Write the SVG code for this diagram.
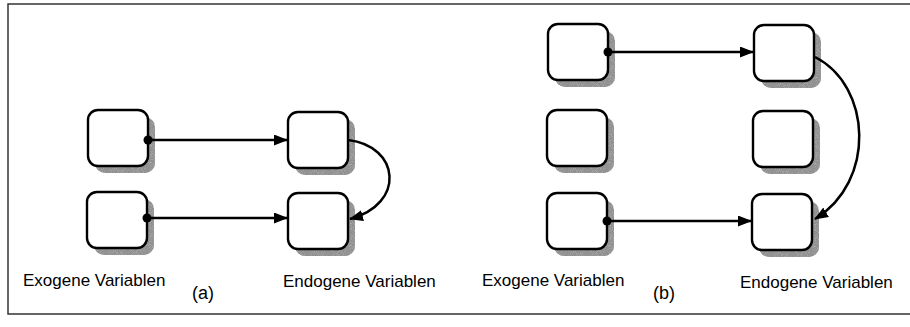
<svg xmlns="http://www.w3.org/2000/svg" width="910" height="327" viewBox="0 0 910 327">
  <style>
    .box { fill: #ffffff; stroke: #000000; stroke-width: 2.4; }
    .shadow { fill: #000000; filter: url(#grain); }
    .edge { fill: none; stroke: #000000; stroke-width: 2.5; }
    .dot { fill: #000000; }
    .lbl { font-family: "Liberation Sans", Arial, sans-serif; font-size: 17px; fill: #000000; }
    .tag { font-family: "Liberation Sans", Arial, sans-serif; font-size: 18px; fill: #000000; }
    .frame { fill: none; stroke: #333333; stroke-width: 1.5; }
  </style>
  <defs>
    <!-- speckled grey used for the drop shadows -->
    <filter id="grain" x="0" y="0" width="100%" height="100%">
      <feTurbulence type="fractalNoise" baseFrequency="0.95" numOctaves="2" seed="7" result="noise"/>
      <feColorMatrix in="noise" type="matrix" values="0 0 0 0 0.28  0 0 0 0 0.28  0 0 0 0 0.28  3 0 0 0 -0.55" result="speck"/>
      <feComposite in="speck" in2="SourceGraphic" operator="in" result="dots"/>
      <feFlood flood-color="#b4b4b4" result="base"/>
      <feComposite in="base" in2="SourceGraphic" operator="in" result="baseShape"/>
      <feMerge>
        <feMergeNode in="baseShape"/>
        <feMergeNode in="dots"/>
      </feMerge>
    </filter>
    <marker id="arrow" viewBox="0 0 14 11" refX="13" refY="5.5" markerWidth="14" markerHeight="11" markerUnits="userSpaceOnUse" orient="auto">
      <path d="M0,0 L14,5.5 L0,11 z" fill="#000000"/>
    </marker>
    <symbol id="node" overflow="visible">
      <rect class="shadow" x="7" y="7" width="60" height="56" rx="10"/>
      <rect class="box" x="0" y="0" width="60" height="56" rx="10"/>
    </symbol>
  </defs>

  <!-- outer frame -->
  <path class="frame" d="M910,4 L8,4 L8,314 L910,314"/>

  <!-- panel (a) -->
  <g id="a-exo-1"><use href="#node" x="88" y="110"/></g>
  <g id="a-exo-2"><use href="#node" x="87" y="192"/></g>
  <g id="a-endo-1"><use href="#node" x="288" y="112"/></g>
  <g id="a-endo-2"><use href="#node" x="288" y="193"/></g>

  <!-- panel (b) -->
  <g id="b-exo-1"><use href="#node" x="548" y="24"/></g>
  <g id="b-exo-2"><use href="#node" x="547" y="110"/></g>
  <g id="b-exo-3"><use href="#node" x="547" y="193"/></g>
  <g id="b-endo-1"><use href="#node" x="754" y="25"/></g>
  <g id="b-endo-2"><use href="#node" x="753" y="111"/></g>
  <g id="b-endo-3"><use href="#node" x="752" y="194"/></g>

  <g id="connectors">
    <!-- (a) -->
    <circle class="dot" cx="148" cy="140" r="4.5"/>
    <path class="edge" d="M148,140 L287,140" marker-end="url(#arrow)"/>
    <circle class="dot" cx="147" cy="218" r="4.5"/>
    <path class="edge" d="M147,218 L287,218" marker-end="url(#arrow)"/>
    <path class="edge" d="M348,140 C400,146 406,204 350,219" marker-end="url(#arrow)"/>
    <!-- (b) -->
    <circle class="dot" cx="608" cy="52" r="4.5"/>
    <path class="edge" d="M608,52 L753,52" marker-end="url(#arrow)"/>
    <circle class="dot" cx="607" cy="221" r="4.5"/>
    <path class="edge" d="M607,221 L751,221" marker-end="url(#arrow)"/>
    <path class="edge" d="M815,57 C872,86 876,182 815,219" marker-end="url(#arrow)"/>
  </g>

  <!-- labels -->
  <text class="lbl" x="23" y="286">Exogene Variablen</text>
  <text class="lbl" x="283" y="287">Endogene Variablen</text>
  <text class="tag" x="192" y="299">(a)</text>
  <text class="lbl" x="482" y="286">Exogene Variablen</text>
  <text class="lbl" x="740" y="288">Endogene Variablen</text>
  <text class="tag" x="653" y="299">(b)</text>
</svg>
